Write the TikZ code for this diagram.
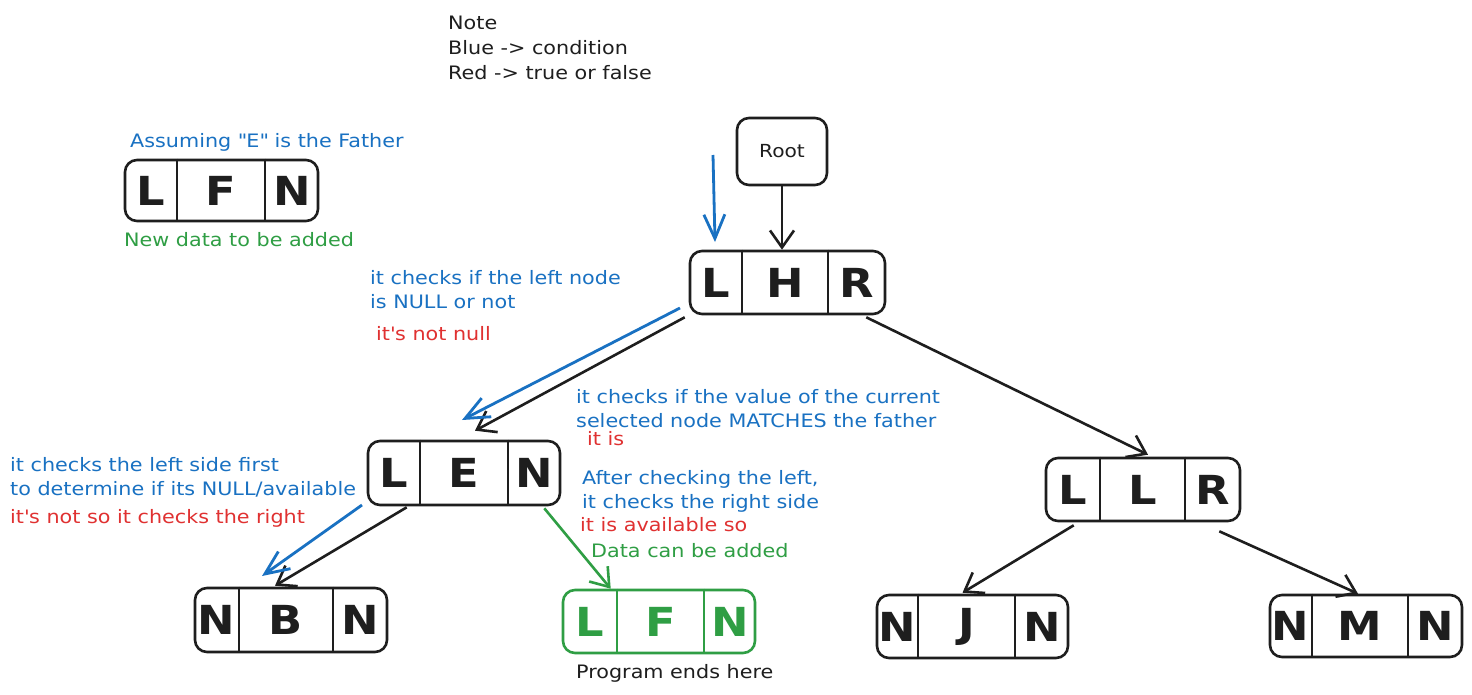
\documentclass[tikz,border=0pt]{standalone}
\usepackage{fontspec}
\setmainfont{DejaVu Sans}[FakeStretch=1.12]
\usetikzlibrary{arrows.meta,fit,calc}
\definecolor{cblue}{HTML}{1971C2}
\definecolor{cred}{HTML}{E03131}
\definecolor{cgreen}{HTML}{2F9E44}
\definecolor{cblack}{HTML}{1E1E1E}
\newcommand{\tribox}[8]{%
  \node[box, fit={(#2) (#3)}] (#1) {};
  \coordinate (#1a) at (#4,0);
  \coordinate (#1b) at (#5,0);
  \draw[divline] (#1.north -| #1a) -- (#1.south -| #1a);
  \draw[divline] (#1.north -| #1b) -- (#1.south -| #1b);
  \node[letter] (#1l) at ($(#1.west)!.5!(#1.west -| #1a)$) {#6};
  \node[letter] (#1m) at ($(#1.center -| #1a)!.5!(#1.center -| #1b)$) {#7};
  \node[letter] (#1r) at ($(#1.center -| #1b)!.5!(#1.east)$) {#8};
}
\begin{document}
\begin{tikzpicture}[x=1pt,y=-1pt,color=cblack,
  box/.style={draw, rounded corners=12pt, inner sep=0pt, line width=2.6pt},
  divline/.style={line width=2.4pt},
  letter/.style={font=\fontsize{40}{40}\selectfont\bfseries, inner sep=0pt},
  txt/.style={font=\fontsize{18.5}{22}\selectfont, anchor=base west, inner sep=0pt},
  arr/.style={-{Straight Barb[length=17pt,width=24pt]}, line width=2.6pt},
  barr/.style={-{Straight Barb[length=24pt,width=21pt]}, line width=2.8pt, cblue}]
\fill[white] (0,0) rectangle (1472,694);
\useasboundingbox (0,0) rectangle (1472,694);

% boxes
\tribox{Fa}{125,160}{318,221}{177}{265}{L}{F}{N}
\node[box, fit={(737,118) (827,185)}] (root) {};
\node[font=\fontsize{18}{20}\selectfont] (roottxt) at (root.center) {Root};
\tribox{H}{690,251}{885,314}{742}{828}{L}{H}{R}
\tribox{E}{368,441}{560,505}{420}{508}{L}{E}{N}
\tribox{Lr}{1046,458}{1240,521}{1100}{1185}{L}{L}{R}
\tribox{B}{195,588}{387,652}{239}{333}{N}{B}{N}
\begin{scope}[color=cgreen]
\tribox{F}{563,590}{755,653}{617}{704}{L}{F}{N}
\end{scope}
\tribox{J}{877,595}{1068,658}{918}{1015}{N}{J}{N}
\tribox{M}{1270,595}{1462,657}{1312}{1408}{N}{M}{N}

% black connectors
\draw[arr] (root.south) -- (root.south |- H.north);
\draw[arr] ([xshift=-4pt,yshift=-2pt]H.south west) -- ([xshift=11pt,yshift=9pt]E.north);
\draw[arr] ([xshift=-20pt,yshift=-2pt]H.south east) -- ([xshift=5pt,yshift=2pt]Lr.north);
\draw[arr] ([xshift=40pt,yshift=-1pt]E.south west) -- ([xshift=-16pt,yshift=1pt]B.north);
\draw[arr] ([xshift=29pt,yshift=-3pt]Lr.south west) -- ([xshift=-10pt,yshift=1pt]J.north);
\draw[arr] ([xshift=-22pt,yshift=-9pt]Lr.south east) -- ([xshift=-8pt]M.north);
\draw[arr, cgreen] ([xshift=-17pt,yshift=-2pt]E.south east) -- ([xshift=49pt]F.north west);

% blue arrows
\coordinate (b1s) at (713,155);
\coordinate (b1e) at (715,242);
\coordinate (b2s) at (680,308);
\coordinate (b2e) at (462,420);
\coordinate (b3s) at (362,505);
\coordinate (b3e) at (262,576);
\draw[barr] (b1s) -- (b1e);
\draw[barr] (b2s) -- (b2e);
\draw[barr] (b3s) -- (b3e);

% texts
\node[txt] (n1) at (448,29) {Note};
\node[txt] (n2) at (448,54) {Blue -> condition};
\node[txt] (n3) at (448,79) {Red -> true or false};
\node[txt, cblue] (t1) at (130,147) {Assuming \textquotedbl E\textquotedbl{} is the Father};
\node[txt, cgreen] (t2) at (124,246) {New data to be added};
\node[txt, cblue] (t3) at (370,284) {it checks if the left node};
\node[txt, cblue] (t4) at (370,308) {is NULL or not};
\node[txt, cred] (t5) at (376,340) {it\textquotesingle s not null};
\node[txt, cblue] (t6) at (576,403) {it checks if the value of the current};
\node[txt, cblue] (t7) at (576,427) {selected node MATCHES the father};
\node[txt, cred] (t8) at (587,445) {it is};
\node[txt, cblue] (t9) at (10,471) {it checks the left side first};
\node[txt, cblue] (t10) at (10,495) {to determine if its NULL/available};
\node[txt, cred] (t11) at (10,523) {it\textquotesingle s not so it checks the right};
\node[txt, cblue] (t12) at (582,484) {After checking the left,};
\node[txt, cblue] (t13) at (582,508) {it checks the right side};
\node[txt, cred] (t14) at (580,531) {it is available so};
\node[txt, cgreen] (t15) at (591,557) {Data can be added};
\node[txt] (t16) at (576,678) {Program ends here};
\end{tikzpicture}
\end{document}
